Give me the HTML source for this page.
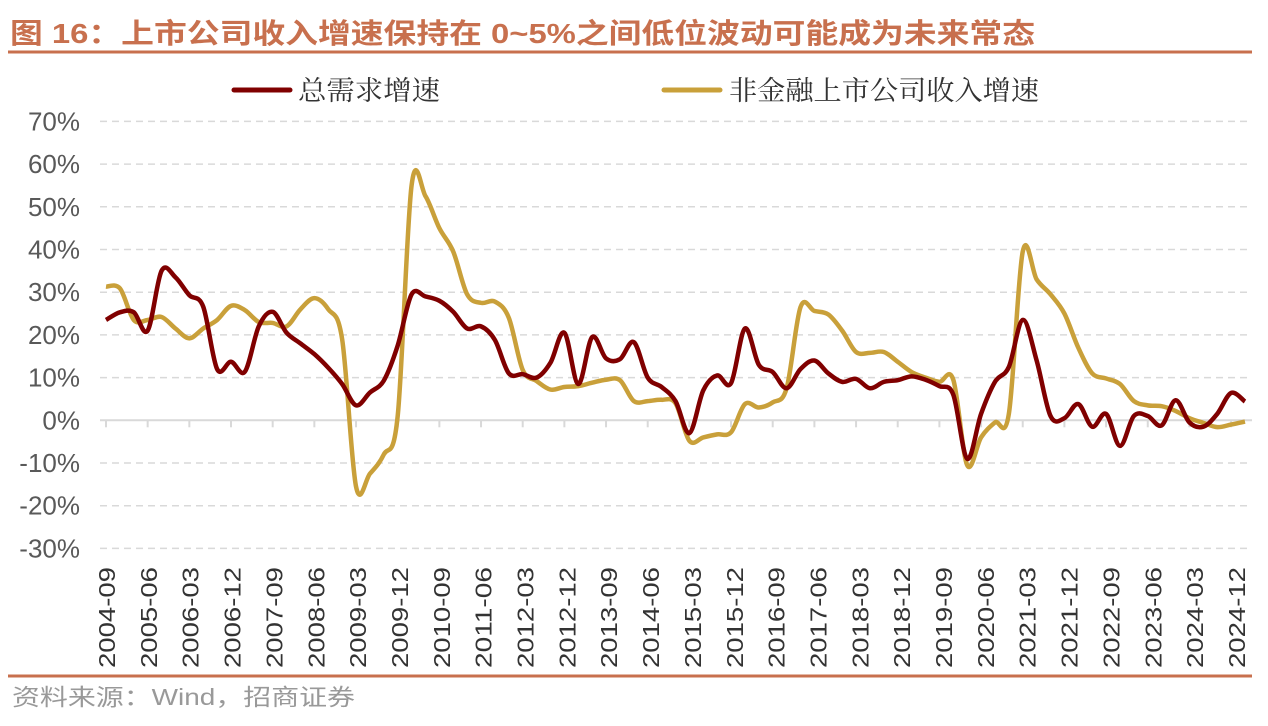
<!DOCTYPE html>
<html><head><meta charset="utf-8"><style>
body{margin:0;width:1268px;height:721px;background:#fff;overflow:hidden;font-family:"Liberation Sans","Noto Sans CJK SC",sans-serif;}
</style></head><body>
<svg id="chart" width="1268" height="721" xmlns="http://www.w3.org/2000/svg">
<text x="10" y="43" font-size="28" font-weight="bold" fill="#c8704e" textLength="1025" lengthAdjust="spacingAndGlyphs" font-family="Liberation Sans, Noto Sans CJK SC, sans-serif">图 16：上市公司收入增速保持在 0~5%之间低位波动可能成为未来常态</text>
<line x1="8" y1="52" x2="1252" y2="52" stroke="#c8704e" stroke-width="3"/>
<g>
<line x1="234" y1="90" x2="290" y2="90" stroke="#800000" stroke-width="5" stroke-linecap="round"/>
<text x="298" y="100" font-size="27" fill="#333" textLength="142" lengthAdjust="spacingAndGlyphs" font-family="Noto Serif CJK SC, serif">总需求增速</text>
<line x1="664" y1="90" x2="720" y2="90" stroke="#c9a03a" stroke-width="5" stroke-linecap="round"/>
<text x="729" y="100" font-size="27" fill="#333" textLength="310" lengthAdjust="spacingAndGlyphs" font-family="Noto Serif CJK SC, serif">非金融上市公司收入增速</text>
</g>
<g id="grid"></g><g id="yt"></g><g id="xt"></g><g id="series"></g>
<line x1="8" y1="676" x2="1252" y2="676" stroke="#c8704e" stroke-width="3"/>
<text x="12" y="705" font-size="23" fill="#999" textLength="343" lengthAdjust="spacingAndGlyphs">资料来源：Wind，招商证券</text>
</svg>
<script>
const yTicks=[70,60,50,40,30,20,10,0,-10,-20,-30];
const xLabels=["2004-09","2005-06","2006-03","2006-12","2007-09","2008-06","2009-03","2009-12","2010-09","2011-06","2012-03","2012-12","2013-09","2014-06","2015-03","2015-12","2016-09","2017-06","2018-03","2018-12","2019-09","2020-06","2021-03","2021-12","2022-09","2023-06","2024-03","2024-12"];
const demand=[23.5,25.3,25.3,21,35,33.5,29.3,26.6,12,13.7,11.4,22,25.4,20.5,18,15.5,12.3,8.5,3.5,6.5,9.3,17.5,29.5,29,28,25.4,21.5,22,18.8,11,10.8,10,13.5,20.5,8.5,19.5,14.5,14.3,18.3,10,7.8,4.5,-3,7,10.5,8.7,21.5,13,11.3,7.5,12,14,11,9,9.7,7.5,9,9.4,10.3,9.5,8,6,-9,1.5,9,12.5,23.5,14,1,0.5,3.8,-1.5,1.5,-6,1,1,-1.2,4.7,-0.5,-1.5,1.5,6.4,4.4];
const revenue=[31.3,30.9,23.5,23.5,24.2,21.5,19.2,21.5,23.5,26.8,25.8,23,22.8,22,26,28.6,26,19,-15.5,-12.5,-8,1,55,52.5,45,39.5,29.5,27.5,27.8,24,11.8,9.2,7.2,7.8,8,8.8,9.5,9.4,4.5,4.5,4.8,4,-4.8,-4,-3.3,-2.8,3.8,3,4.2,7.5,26.5,25.6,24.8,21,16,15.8,16,13.7,11.3,10,9,9.5,-10.5,-4,-0.5,1.5,39.5,33,29.5,25,17,11,9.8,8.5,4.5,3.5,3.3,2.2,0.5,-0.6,-1.6,-1,-0.3];
const NS="http://www.w3.org/2000/svg";
const X0=106,DX=13.89,Y0=420.3,DY=4.27,XL=100,XR=1252;
const xs=i=>X0+i*DX, ys=v=>Y0-v*DY;
function mk(tag,attrs,parent){const e=document.createElementNS(NS,tag);for(const k in attrs)e.setAttribute(k,attrs[k]);parent.appendChild(e);return e;}
const grid=document.getElementById('grid'),yt=document.getElementById('yt'),xt=document.getElementById('xt'),ser=document.getElementById('series');
yTicks.forEach(v=>{
  if(v!==0){const l=mk('line',{x1:XL,x2:XR,y1:ys(v),y2:ys(v),stroke:'#d9d9d9','stroke-width':1.5,'stroke-dasharray':'7,5'},grid);
  
  }
  const t=mk('text',{x:80,y:ys(v)+9,'text-anchor':'end','font-size':26,fill:'#595959'},yt);
  
  
  t.textContent=v+'%';
});
const ax=mk('line',{x1:XL,x2:XR,y1:Y0,y2:Y0,stroke:'#d9d9d9','stroke-width':2},grid);


xLabels.forEach((s,k)=>{
  const x=xs(k*3);
  const tk=mk('line',{x1:x,x2:x,y1:Y0,y2:Y0+7,stroke:'#d9d9d9','stroke-width':2},xt);
  
  
  const lx=107+k*41.85;
  const t=mk('text',{x:0,y:0,transform:`translate(${lx+8},668) rotate(-90)`,'font-size':23,fill:'#333',textLength:101,lengthAdjust:'spacingAndGlyphs'},xt);
  
  
  t.textContent=s;
});
function path(vals){
  const p=vals.map((v,i)=>[xs(i),ys(v)]);
  let d=`M${p[0][0]},${p[0][1]}`;
  for(let i=0;i<p.length-1;i++){
    const a=p[i-1]||p[i],b=p[i],c=p[i+1],e=p[i+2]||c;
    const c1=[b[0]+(c[0]-a[0])/6,b[1]+(c[1]-a[1])/6],c2=[c[0]-(e[0]-b[0])/6,c[1]-(e[1]-b[1])/6];
    d+=`C${c1[0]},${c1[1]} ${c2[0]},${c2[1]} ${c[0]},${c[1]}`;
  }
  return d;
}
const lr=mk('path',{d:path(revenue),fill:'none',stroke:'#c9a03a','stroke-width':4.5,'stroke-linejoin':'round'},ser);


const ld=mk('path',{d:path(demand),fill:'none',stroke:'#800000','stroke-width':4.5,'stroke-linejoin':'round'},ser);


</script>
</body></html>
